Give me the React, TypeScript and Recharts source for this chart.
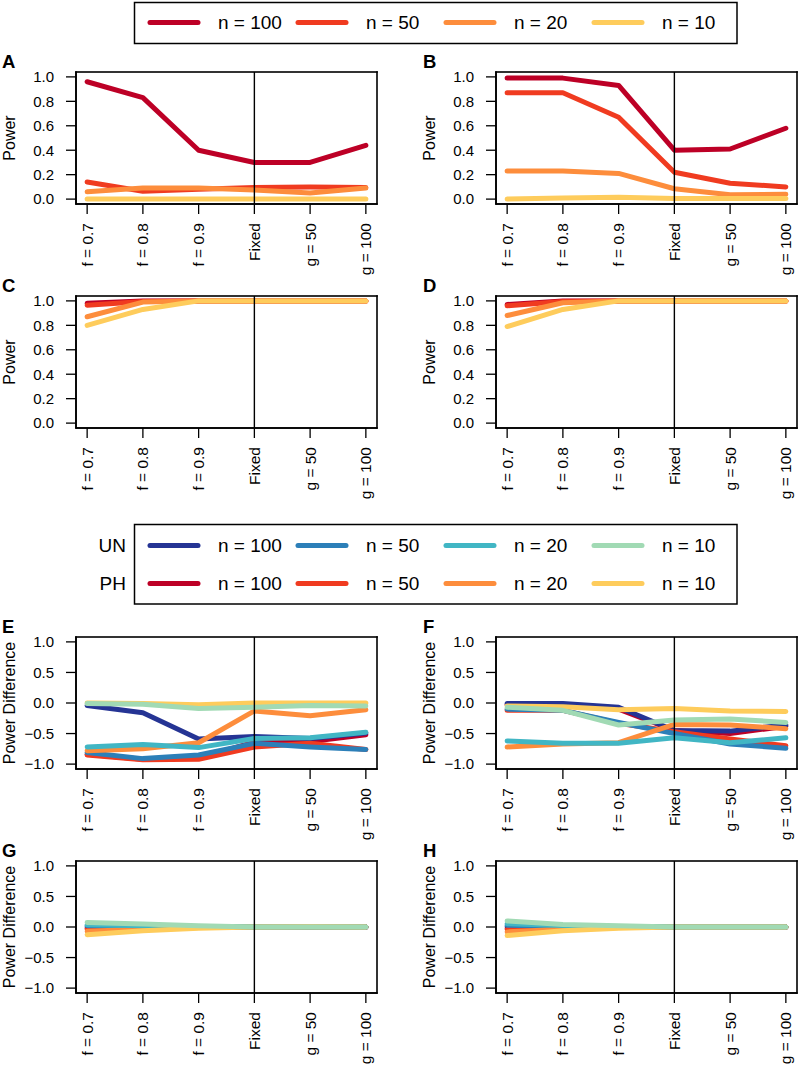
import React from "react";
import { LineChart, Line, XAxis, YAxis, ReferenceLine } from "recharts";

// x categories (index 0..5)
const xLabels = ["f = 0.7", "f = 0.8", "f = 0.9", "Fixed", "g = 50", "g = 100"];
const sizeLabels = ["n = 100", "n = 50", "n = 20", "n = 10"];

const phColors = ["#BD0026", "#F03B20", "#FD8D3C", "#FECC5C"];
const unColors = ["#253494", "#2C7FB8", "#41B6C4", "#A1DAB4"];

const powerTicks = [0, 0.2, 0.4, 0.6, 0.8, 1.0];
const diffTicks = [-1, -0.5, 0, 0.5, 1];

// Panel A
const phA100 = [0.96, 0.83, 0.4, 0.3, 0.3, 0.44];
const phA50 = [0.14, 0.065, 0.08, 0.095, 0.1, 0.095];
const phA20 = [0.06, 0.09, 0.09, 0.075, 0.05, 0.09];
const phA10 = [0.0, 0.0, 0.0, 0.0, 0.0, 0.0];
// Panel B
const phB100 = [0.99, 0.99, 0.93, 0.4, 0.41, 0.58];
const phB50 = [0.87, 0.87, 0.67, 0.22, 0.13, 0.1];
const phB20 = [0.23, 0.23, 0.21, 0.085, 0.035, 0.04];
const phB10 = [0.0, 0.01, 0.015, 0.005, 0.005, 0.005];
// Panel C
const phC100 = [0.98, 1, 1, 1, 1, 1];
const phC50 = [0.965, 0.995, 1, 1, 1, 1];
const phC20 = [0.87, 0.99, 1, 1, 1, 1];
const phC10 = [0.8, 0.93, 1, 1, 1, 1];
// Panel D
const phD100 = [0.97, 1, 1, 1, 1, 1];
const phD50 = [0.96, 0.995, 1, 1, 1, 1];
const phD20 = [0.88, 0.985, 1, 1, 1, 1];
const phD10 = [0.79, 0.93, 1, 1, 1, 1];
// Panel E
const unE100 = [-0.04, -0.16, -0.59, -0.55, -0.58, -0.49];
const unE50 = [-0.81, -0.91, -0.85, -0.66, -0.72, -0.76];
const unE20 = [-0.72, -0.68, -0.73, -0.58, -0.57, -0.48];
const unE10 = [-0.01, -0.02, -0.09, -0.07, -0.04, -0.05];
const phE100 = [-0.84, -0.92, -0.9, -0.64, -0.63, -0.52];
const phE50 = [-0.85, -0.93, -0.92, -0.72, -0.66, -0.76];
const phE20 = [-0.78, -0.75, -0.65, -0.13, -0.21, -0.11];
const phE10 = [0.0, -0.01, -0.03, 0.0, 0.0, 0.0];
// Panel F
const unF100 = [-0.01, -0.01, -0.07, -0.45, -0.46, -0.36];
const unF50 = [-0.1, -0.12, -0.32, -0.5, -0.67, -0.74];
const unF20 = [-0.62, -0.66, -0.66, -0.57, -0.65, -0.57];
const unF10 = [-0.07, -0.12, -0.36, -0.28, -0.26, -0.32];
const phF100 = [-0.03, -0.03, -0.1, -0.45, -0.5, -0.38];
const phF50 = [-0.12, -0.12, -0.33, -0.47, -0.59, -0.7];
const phF20 = [-0.72, -0.67, -0.65, -0.35, -0.36, -0.42];
const phF10 = [-0.05, -0.06, -0.11, -0.09, -0.13, -0.14];
// Panel G
const unG100 = [0.0, -0.005, 0, 0, 0, 0];
const unG50 = [0.02, 0.01, 0.005, 0, 0, 0];
const unG20 = [0.035, 0.02, 0.01, 0, 0, 0];
const unG10 = [0.075, 0.05, 0.02, 0, 0, 0];
const phG100 = [-0.02, -0.01, 0, 0, 0, 0];
const phG50 = [-0.035, -0.015, -0.005, 0, 0, 0];
const phG20 = [-0.07, -0.035, -0.01, 0, 0, 0];
const phG10 = [-0.125, -0.06, -0.02, 0, 0.005, 0];
// Panel H
const unH100 = [0.005, 0, 0, 0, 0, 0];
const unH50 = [0.03, 0.01, 0.005, 0, 0, 0];
const unH20 = [0.055, 0.025, 0.01, 0, 0, 0];
const unH10 = [0.1, 0.04, 0.02, 0, 0, 0];
const phH100 = [-0.02, -0.01, 0, 0, 0, 0];
const phH50 = [-0.04, -0.02, -0.005, 0, 0, 0];
const phH20 = [-0.08, -0.035, -0.01, 0, 0, 0];
const phH10 = [-0.14, -0.06, -0.02, 0, 0, 0];

const FONT = "'Liberation Sans', Arial, Helvetica, sans-serif";
const BOX_W = 301;
const BOX_H = 132;

type Series = { key: string; color: string; values: number[] };

// order matters: later lines sit on top
const phOnly = (v: number[][]): Series[] =>
  v.map((values, i) => ({ key: "ph" + i, color: phColors[i], values }));
const both = (un: number[][], ph: number[][]): Series[] => {
  const out: Series[] = [];
  for (let i = 0; i < 4; i++) {
    out.push({ key: "ph" + i, color: phColors[i], values: ph[i] });
    out.push({ key: "un" + i, color: unColors[i], values: un[i] });
  }
  return out;
};

const fmtTick = (v: number) => (v < 0 ? "\u2212" + Math.abs(v).toFixed(1) : v.toFixed(1));

const XTick = (props: any) => {
  const { x, y, payload } = props;
  return (
    <text
      x={x}
      y={y}
      transform={`rotate(-90, ${x}, ${y})`}
      textAnchor="end"
      dominantBaseline="central"
      fontSize={15.5}
      fontFamily={FONT}
      fill="#000"
    >
      {xLabels[payload.value]}
    </text>
  );
};

interface PanelProps {
  bx: number;
  by: number;
  diff?: boolean;
  series: Series[];
}

// frame edges drawn as thin filled bars, on top of the plot
const FrameEdges = ({ x, y, w, h }: { x: number; y: number; w: number; h: number }) => {
  const t = 1.6;
  return (
    <g>
      <rect x={x - t / 2} y={y - t / 2} width={w + t} height={t} fill="#000" />
      <rect x={x - t / 2} y={y + h - t / 2} width={w + t} height={t} fill="#000" />
      <rect x={x - t / 2} y={y - t / 2} width={t} height={h + t} fill="#000" />
      <rect x={x + w - t / 2} y={y - t / 2} width={t} height={h + t} fill="#000" />
    </g>
  );
};

function Panel({ bx, by, diff = false, series }: PanelProps) {
  const rows = xLabels.map((label, i) => {
    const row: Record<string, number | string> = { x: i, label };
    series.forEach((s) => (row[s.key] = s.values[i]));
    return row;
  });
  const yDomain = diff ? [-1.08, 1.08] : [-0.04, 1.04];
  const top = 14;
  return (
    <div style={{ position: "absolute", left: bx - 76, top: by - top, width: 76 + BOX_W + 3, height: top + BOX_H + 75 }}>
      <LineChart
        width={76 + BOX_W + 3}
        height={top + BOX_H + 75}
        data={rows}
        margin={{ top, right: 3, bottom: 0, left: 0 }}
      >
        <XAxis
          dataKey="x"
          type="number"
          domain={[-0.2, 5.2]}
          ticks={[0, 1, 2, 3, 4, 5]}
          height={75}
          axisLine={{ stroke: "#000", strokeWidth: 1.6 }}
          tickLine={{ stroke: "#000", strokeWidth: 1.3 }}
          tickSize={10}
          tickMargin={9}
          tick={<XTick />}
          interval={0}
        />
        <YAxis
          type="number"
          domain={yDomain}
          ticks={diff ? diffTicks : powerTicks}
          width={76}
          axisLine={{ stroke: "#000", strokeWidth: 1.6 }}
          tickLine={{ stroke: "#000", strokeWidth: 1.3 }}
          tickSize={10}
          tickMargin={12}
          tickFormatter={fmtTick}
          tick={{ fill: "#000", fontSize: 15, fontFamily: FONT }}
          interval={0}
        />
        {series.map((s) => (
          <Line
            key={s.key}
            dataKey={s.key}
            stroke={s.color}
            strokeWidth={5}
            strokeLinecap="round"
            strokeLinejoin="round"
            dot={false}
            activeDot={false}
            isAnimationActive={false}
          />
        ))}
        <ReferenceLine x={3} stroke="#000" strokeWidth={1.4} />
      </LineChart>
      <svg
        width={76 + BOX_W + 3}
        height={top + BOX_H + 75}
        style={{ position: "absolute", left: 0, top: 0, pointerEvents: "none" }}
      >
        <FrameEdges x={76} y={top} w={BOX_W} h={BOX_H} />
      </svg>
    </div>
  );
}

const colX = [76, 496];
const rowY = [72, 296, 637, 861];
const letters = ["A", "B", "C", "D", "E", "F", "G", "H"];

function LegendRow({ y, colors }: { y: number; colors: string[] }) {
  return (
    <g>
      {sizeLabels.map((lab, i) => (
        <g key={lab}>
          <line
            x1={150 + i * 148}
            x2={198 + i * 148}
            y1={y}
            y2={y}
            stroke={colors[i]}
            strokeWidth={5}
            strokeLinecap="round"
          />
          <text x={218 + i * 148} y={y} dominantBaseline="central" fontSize={19} fontFamily={FONT} fill="#000">
            {lab}
          </text>
        </g>
      ))}
    </g>
  );
}

export default function App() {
  const panels: { series: Series[]; diff: boolean }[] = [
    { series: phOnly([phA100, phA50, phA20, phA10]), diff: false },
    { series: phOnly([phB100, phB50, phB20, phB10]), diff: false },
    { series: phOnly([phC100, phC50, phC20, phC10]), diff: false },
    { series: phOnly([phD100, phD50, phD20, phD10]), diff: false },
    { series: both([unE100, unE50, unE20, unE10], [phE100, phE50, phE20, phE10]), diff: true },
    { series: both([unF100, unF50, unF20, unF10], [phF100, phF50, phF20, phF10]), diff: true },
    { series: both([unG100, unG50, unG20, unG10], [phG100, phG50, phG20, phG10]), diff: true },
    { series: both([unH100, unH50, unH20, unH10], [phH100, phH50, phH20, phH10]), diff: true },
  ];

  return (
    <div style={{ position: "absolute", left: 0, top: 0, width: 800, height: 1069, background: "#fff" }}>
      <svg width={800} height={1069} style={{ position: "absolute", left: 0, top: 0 }}>
        <rect x={134.5} y={2.5} width={602.5} height={41} fill="none" stroke="#000" strokeWidth={1.5} />
        <LegendRow y={22.5} colors={phColors} />
        <rect x={134.5} y={524.5} width={602.5} height={79.5} fill="none" stroke="#000" strokeWidth={1.5} />
        <text x={126} y={545.5} textAnchor="end" dominantBaseline="central" fontSize={19} fontFamily={FONT}>
          UN
        </text>
        <text x={126} y={583.5} textAnchor="end" dominantBaseline="central" fontSize={19} fontFamily={FONT}>
          PH
        </text>
        <LegendRow y={545.5} colors={unColors} />
        <LegendRow y={583.5} colors={phColors} />
        {panels.map((p, i) => {
          const cx = colX[i % 2];
          const cy = rowY[Math.floor(i / 2)];
          const lx = i % 2 === 0 ? 2 : 423;
          const tx = cx - 66.5;
          const ty = cy + BOX_H / 2;
          return (
            <g key={letters[i]}>
              <text x={lx} y={cy - 4.5} fontSize={18.5} fontWeight="bold" fontFamily={FONT}>
                {letters[i]}
              </text>
              <text
                x={tx}
                y={ty}
                transform={`rotate(-90, ${tx}, ${ty})`}
                textAnchor="middle"
                dominantBaseline="central"
                fontSize={16}
                fontFamily={FONT}
              >
                {p.diff ? "Power Difference" : "Power"}
              </text>
            </g>
          );
        })}
      </svg>
      {panels.map((p, i) => (
        <Panel key={i} bx={colX[i % 2]} by={rowY[Math.floor(i / 2)]} diff={p.diff} series={p.series} />
      ))}
    </div>
  );
}
